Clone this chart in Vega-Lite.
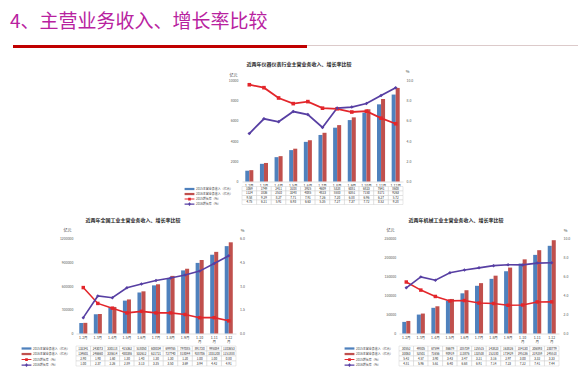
{
  "$schema": "https://vega.github.io/schema/vega-lite/v6.json",
  "padding": {"left": 10, "top": 12, "right": 0, "bottom": 4},
  "autosize": {"type": "pad"},
  "background": "#FFFFFF",
  "config": {
    "view": {"stroke": null},
    "font": "Noto Sans CJK SC",
    "axis": {"labelFont": "Noto Sans CJK SC", "titleFont": "Noto Sans CJK SC", "labelFontSize": 3.5, "labelColor": "#595959", "ticks": false, "grid": false, "domain": false, "titleFontWeight": "normal", "titleFontSize": 4, "titleColor": "#404040"},
    "legend": {"orient": "left", "title": null, "padding": 0, "symbolSize": 20, "symbolOpacity": 1, "labelFont": "Noto Sans CJK SC", "labelFontSize": 3, "labelColor": "#404040", "labelOffset": 4, "labelLimit": 300, "symbolStrokeWidth": 0},
    "title": {"font": "Noto Sans CJK SC"}
  },
  "datasets": {
    "ins": [
      {"m": "1-2月", "r15": 1069, "r16": 1124, "g15": 9.58, "g16": 4.75},
      {"m": "1-3月", "r15": 1749, "r16": 1836, "g15": 9.29, "g16": 6.21},
      {"m": "1-4月", "r15": 2411, "r16": 2510, "g15": 8.27, "g16": 5.91},
      {"m": "1-5月", "r15": 3108, "r16": 3248, "g15": 7.71, "g16": 6.93},
      {"m": "1-6月", "r15": 3925, "r16": 4085, "g15": 7.91, "g16": 6.63},
      {"m": "1-7月", "r15": 4609, "r16": 4823, "g15": 7.26, "g16": 5.35},
      {"m": "1-8月", "r15": 5328, "r16": 5583, "g15": 7.20, "g16": 7.27},
      {"m": "1-9月", "r15": 6081, "r16": 6351, "g15": 6.88, "g16": 7.37},
      {"m": "1-10月", "r15": 6823, "r16": 7150, "g15": 6.96, "g16": 7.72},
      {"m": "1-11月", "r15": 7641, "r16": 8171, "g15": 6.27, "g16": 8.52},
      {"m": "1-12月", "r15": 8608, "r16": 9263, "g15": 5.72, "g16": 9.28}
    ],
    "nat": [
      {"m": "1-2月", "r15": 132341, "r16": 134601, "g15": 2.90, "g16": 1.00},
      {"m": "1-3月", "r15": 243073, "r16": 246660, "g15": 1.90, "g16": 2.37},
      {"m": "1-4月", "r15": 330118, "r16": 335614, "g15": 1.60, "g16": 2.26},
      {"m": "1-5月", "r15": 415362, "r16": 430386, "g15": 1.30, "g16": 2.89},
      {"m": "1-6月", "r15": 518050, "r16": 532612, "g15": 1.40, "g16": 3.13},
      {"m": "1-7月", "r15": 608034, "r16": 621721, "g15": 1.30, "g16": 3.35},
      {"m": "1-8月", "r15": 699765, "r16": 727740, "g15": 1.30, "g16": 3.50},
      {"m": "1-9月", "r15": 797085, "r16": 818044, "g15": 1.20, "g16": 3.69},
      {"m": "1-10月", "r15": 891720, "r16": 928706, "g15": 1.00, "g16": 3.94},
      {"m": "1-11月", "r15": 995084, "r16": 1031208, "g15": 1.00, "g16": 4.42},
      {"m": "1-12月", "r15": 1103653, "r16": 1151888, "g15": 0.80, "g16": 4.91}
    ],
    "mach": [
      {"m": "1-2月", "r15": 30552, "r16": 33063, "g15": 5.42, "g16": 4.81},
      {"m": "1-3月", "r15": 49805, "r16": 52501, "g15": 4.57, "g16": 5.96},
      {"m": "1-4月", "r15": 67594, "r16": 71656, "g15": 3.90, "g16": 5.61},
      {"m": "1-5月", "r15": 86679, "r16": 90919, "g15": 3.43, "g16": 6.40},
      {"m": "1-6月", "r15": 105739, "r16": 113876, "g15": 3.47, "g16": 6.68},
      {"m": "1-7月", "r15": 125515, "r16": 132538, "g15": 3.21, "g16": 6.91},
      {"m": "1-8月", "r15": 143823, "r16": 152180, "g15": 3.16, "g16": 7.14},
      {"m": "1-9月", "r15": 163826, "r16": 173429, "g15": 2.97, "g16": 7.23},
      {"m": "1-10月", "r15": 184130, "r16": 195136, "g15": 3.00, "g16": 7.22},
      {"m": "1-11月", "r15": 206893, "r16": 219259, "g15": 3.32, "g16": 7.41},
      {"m": "1-12月", "r15": 230779, "r16": 245518, "g15": 3.33, "g16": 7.44}
    ]
  },
  "spacing": 13.5,
  "resolve": {"scale": {"color": "independent", "shape": "independent"}, "legend": {"color": "independent", "shape": "independent"}},
  "vconcat": [
    {
      "spacing": 0,
      "bounds": "flush",
      "hconcat": [
        {
          "width": 294, "height": 3,
          "view": {"fill": "#C00000", "stroke": null},
          "title": {"text": "4、主营业务收入、增长率比较", "anchor": "start", "frame": "group", "dx": -3, "offset": -1.5, "baseline": "alphabetic", "fontSize": 19, "fontWeight": "normal", "color": "#B8229F"},
          "data": {"values": [{}]},
          "mark": {"type": "point", "opacity": 0, "size": 0}
        },
        {
          "width": 271, "height": 1,
          "view": {"fill": "#DCCACA", "stroke": null},
          "data": {"values": [{}]},
          "mark": {"type": "point", "opacity": 0, "size": 0}
        }
      ]
    },
    {
      "spacing": -1.5,
      "resolve": {"scale": {"color": "independent", "shape": "independent"}, "legend": {"color": "independent", "shape": "independent"}},
      "vconcat": [
        {
          "spacing": 0,
          "bounds": "flush",
          "resolve": {"scale": {"color": "independent", "shape": "independent"}, "legend": {"color": "independent", "shape": "independent"}},
          "hconcat": [
            {"width": 229, "height": 1, "data": {"values": [{}]}, "mark": {"type": "point", "opacity": 0, "size": 0}},
            {
              "width": 161, "height": 101,
              "title": {"text": "近两年仪器仪表行业主营业务收入、增长率比较", "frame": "group", "anchor": "middle", "dx": -23.5, "offset": 1, "baseline": "middle", "fontSize": 5, "fontWeight": "bold", "color": "#262626"},
              "data": {"name": "ins"},
              "layer": [
                {
                  "transform": [{"fold": ["r15", "r16"], "as": ["k", "v"]}],
                  "mark": {"type": "bar"},
                  "encoding": {
                    "x": {"field": "m", "type": "nominal", "sort": null, "scale": {"paddingInner": 0.45, "paddingOuter": 0.225}, "axis": {"title": null, "labelAngle": 0, "labelFontSize": 3.5, "labelColor": "#404040", "labelPadding": 1.5, "domain": true, "domainColor": "#BFBFBF", "domainWidth": 0.5}},
                    "xOffset": {"field": "k", "type": "nominal", "sort": ["r15", "r16"]},
                    "y": {"field": "v", "type": "quantitative", "scale": {"domain": [0, 10000]}, "axis": {"title": "亿元", "titleAngle": 0, "titleX": -9, "titleY": -5.5, "titleAlign": "center", "titleBaseline": "middle", "values": [0, 2000, 4000, 6000, 8000, 10000], "format": "d", "labelPadding": 4}},
                    "color": {"field": "k", "type": "nominal", "scale": {"domain": ["r15", "r16"], "range": ["#4F81BD", "#C0504D"]}, "legend": null}
                  }
                },
                {
                  "transform": [{"fold": ["g15", "g16"], "as": ["k", "v"]}],
                  "encoding": {
                    "x": {"field": "m", "type": "nominal", "sort": null},
                    "y": {"field": "v", "type": "quantitative", "scale": {"domain": [0, 10]}, "axis": {"orient": "right", "title": "%", "titleAngle": 0, "titleX": 4, "titleY": -9, "titleAlign": "center", "titleBaseline": "middle", "values": [0, 2, 4, 6, 8, 10], "format": ".1f", "labelPadding": 3}},
                    "color": {"field": "k", "type": "nominal", "scale": {"domain": ["g15", "g16"], "range": ["#E3262B", "#573FA3"]}, "legend": null}
                  },
                  "layer": [
                    {"mark": {"type": "line", "strokeWidth": 1.8}},
                    {"mark": {"type": "point", "filled": true, "opacity": 1, "size": 13}, "encoding": {"shape": {"field": "k", "type": "nominal", "scale": {"domain": ["g15", "g16"], "range": ["square", "diamond"]}, "legend": null}}}
                  ]
                }
              ],
              "resolve": {"scale": {"y": "independent", "color": "independent"}}
            }
          ]
        },
        {
          "spacing": 11,
          "resolve": {"scale": {"color": "independent", "shape": "independent"}, "legend": {"color": "independent", "shape": "independent"}},
          "vconcat": [
            {
              "spacing": 0,
              "bounds": "flush",
              "resolve": {"scale": {"color": "independent", "shape": "independent"}, "legend": {"color": "independent", "shape": "independent"}},
              "hconcat": [
                {"width": 229, "height": 1, "data": {"values": [{}]}, "mark": {"type": "point", "opacity": 0, "size": 0}},
                {
                  "width": 161, "height": 18,
                  "data": {"name": "ins"},
                  "transform": [{"fold": ["r15", "r16", "g15", "g16"], "as": ["k", "v"]}, {"calculate": "datum.k == 'g15' || datum.k == 'g16' ? format(datum.v, '.2f') : format(datum.v, 'd')", "as": "t"}],
                  "encoding": {
                    "x": {"field": "m", "type": "nominal", "sort": null, "scale": {"paddingInner": 0, "paddingOuter": 0}, "axis": null},
                    "y": {"field": "k", "type": "nominal", "sort": ["r15", "r16", "g15", "g16"], "scale": {"paddingInner": 0, "paddingOuter": 0}, "axis": null}
                  },
                  "layer": [
                    {"mark": {"type": "rect", "fill": "#FFFFFF", "stroke": "#C8C8C8", "strokeWidth": 0.4}},
                    {"mark": {"type": "text", "fontSize": 3, "color": "#262626"}, "encoding": {"text": {"field": "t"}}},
                    {"mark": {"type": "point", "filled": true, "opacity": 0}, "encoding": {
                      "color": {"field": "k", "type": "nominal", "scale": {"domain": ["r15", "r16", "g15", "g16"], "range": ["#4F81BD", "#C0504D", "#E3262B", "#573FA3"]}, "legend": {"offset": 9, "rowPadding": 0.03, "labelExpr": "datum.value == 'r15' ? '2015主营业务收入（亿元）' : datum.value == 'r16' ? '2016主营业务收入（亿元）' : datum.value == 'g15' ? '2015增长率（%）' : '2016增长率（%）'"}},
                      "shape": {"field": "k", "type": "nominal", "scale": {"domain": ["r15", "r16", "g15", "g16"], "range": ["M-2.2,-0.5H2.2V0.5H-2.2Z", "M-2.2,-0.5H2.2V0.5H-2.2Z", "M-2.2,-0.25H2.2V0.25H-2.2Z M-0.6,-0.6H0.6V0.6H-0.6Z", "M-2.2,-0.25H2.2V0.25H-2.2Z M0,-0.8L0.8,0L0,0.8L-0.8,0Z"]}, "legend": {"offset": 9, "rowPadding": 0.03, "labelExpr": "datum.value == 'r15' ? '2015主营业务收入（亿元）' : datum.value == 'r16' ? '2016主营业务收入（亿元）' : datum.value == 'g15' ? '2015增长率（%）' : '2016增长率（%）'"}}
                    }}
                  ]
                }
              ]
            },
            {
              "spacing": 1.5,
              "resolve": {"scale": {"color": "independent", "shape": "independent"}, "legend": {"color": "independent", "shape": "independent"}},
              "vconcat": [
                {
                  "spacing": 0,
                  "bounds": "flush",
                  "resolve": {"scale": {"color": "independent", "shape": "independent"}, "legend": {"color": "independent", "shape": "independent"}},
                  "hconcat": [
                    {"width": 63, "height": 1, "data": {"values": [{}]}, "mark": {"type": "point", "opacity": 0, "size": 0}},
                    {
                      "width": 160, "height": 95,
                      "title": {"text": "近两年全国工业主营业务收入、增长率比较", "frame": "group", "anchor": "middle", "dx": -23, "offset": 3.5, "baseline": "middle", "fontSize": 5, "fontWeight": "bold", "color": "#262626"},
                      "data": {"name": "nat"},
                      "layer": [
                        {
                          "transform": [{"fold": ["r15", "r16"], "as": ["k", "v"]}],
                          "mark": {"type": "bar"},
                          "encoding": {
                            "x": {"field": "m", "type": "nominal", "sort": null, "scale": {"paddingInner": 0.45, "paddingOuter": 0.225}, "axis": {"title": null, "labelAngle": 0, "labelFontSize": 3.5, "labelColor": "#404040", "labelPadding": 2, "labelLineHeight": 4.2, "labelExpr": "length(datum.label) > 4 ? [slice(datum.label, 0, 4), '月'] : datum.label", "domain": true, "domainColor": "#BFBFBF", "domainWidth": 0.5}},
                            "xOffset": {"field": "k", "type": "nominal", "sort": ["r15", "r16"]},
                            "y": {"field": "v", "type": "quantitative", "scale": {"domain": [0, 1200000]}, "axis": {"title": "亿元", "titleAngle": 0, "titleX": -9, "titleY": -8, "titleAlign": "center", "titleBaseline": "middle", "values": [0, 300000, 600000, 900000, 1200000], "format": "d", "labelPadding": 3}},
                            "color": {"field": "k", "type": "nominal", "scale": {"domain": ["r15", "r16"], "range": ["#4F81BD", "#C0504D"]}, "legend": null}
                          }
                        },
                        {
                          "transform": [{"fold": ["g15", "g16"], "as": ["k", "v"]}],
                          "encoding": {
                            "x": {"field": "m", "type": "nominal", "sort": null},
                            "y": {"field": "v", "type": "quantitative", "scale": {"domain": [0, 6]}, "axis": {"orient": "right", "title": "%", "titleAngle": 0, "titleX": 6, "titleY": -8, "titleAlign": "center", "titleBaseline": "middle", "values": [0, 1.5, 3, 4.5, 6], "format": ".1f", "labelPadding": 3.5}},
                            "color": {"field": "k", "type": "nominal", "scale": {"domain": ["g15", "g16"], "range": ["#E3262B", "#573FA3"]}, "legend": null}
                          },
                          "layer": [
                            {"mark": {"type": "line", "strokeWidth": 1.6}},
                            {"mark": {"type": "point", "filled": true, "opacity": 1, "size": 12}, "encoding": {"shape": {"field": "k", "type": "nominal", "scale": {"domain": ["g15", "g16"], "range": ["square", "diamond"]}, "legend": null}}}
                          ]
                        }
                      ],
                      "resolve": {"scale": {"y": "independent", "color": "independent"}}
                    },
                    {"width": 163, "height": 1, "data": {"values": [{}]}, "mark": {"type": "point", "opacity": 0, "size": 0}},
                    {
                      "width": 160, "height": 95,
                      "title": {"text": "近两年机械工业主营业务收入、增长率比较", "frame": "group", "anchor": "middle", "dx": -23, "offset": 3.5, "baseline": "middle", "fontSize": 5, "fontWeight": "bold", "color": "#262626"},
                      "data": {"name": "mach"},
                      "layer": [
                        {
                          "transform": [{"fold": ["r15", "r16"], "as": ["k", "v"]}],
                          "mark": {"type": "bar"},
                          "encoding": {
                            "x": {"field": "m", "type": "nominal", "sort": null, "scale": {"paddingInner": 0.45, "paddingOuter": 0.225}, "axis": {"title": null, "labelAngle": 0, "labelFontSize": 3.5, "labelColor": "#404040", "labelPadding": 2, "labelLineHeight": 4.2, "labelExpr": "length(datum.label) > 4 ? [slice(datum.label, 0, 4), '月'] : datum.label", "domain": true, "domainColor": "#BFBFBF", "domainWidth": 0.5}},
                            "xOffset": {"field": "k", "type": "nominal", "sort": ["r15", "r16"]},
                            "y": {"field": "v", "type": "quantitative", "scale": {"domain": [0, 250000]}, "axis": {"title": "亿元", "titleAngle": 0, "titleX": -9, "titleY": -8, "titleAlign": "center", "titleBaseline": "middle", "values": [0, 50000, 100000, 150000, 200000, 250000], "format": "d", "labelPadding": 3.3}},
                            "color": {"field": "k", "type": "nominal", "scale": {"domain": ["r15", "r16"], "range": ["#4F81BD", "#C0504D"]}, "legend": null}
                          }
                        },
                        {
                          "transform": [{"fold": ["g15", "g16"], "as": ["k", "v"]}],
                          "encoding": {
                            "x": {"field": "m", "type": "nominal", "sort": null},
                            "y": {"field": "v", "type": "quantitative", "scale": {"domain": [0, 10]}, "axis": {"orient": "right", "title": "%", "titleAngle": 0, "titleX": 6, "titleY": -8, "titleAlign": "center", "titleBaseline": "middle", "values": [0, 2, 4, 6, 8, 10], "format": ".1f", "labelPadding": 4}},
                            "color": {"field": "k", "type": "nominal", "scale": {"domain": ["g15", "g16"], "range": ["#E3262B", "#573FA3"]}, "legend": null}
                          },
                          "layer": [
                            {"mark": {"type": "line", "strokeWidth": 1.6}},
                            {"mark": {"type": "point", "filled": true, "opacity": 1, "size": 12}, "encoding": {"shape": {"field": "k", "type": "nominal", "scale": {"domain": ["g15", "g16"], "range": ["square", "diamond"]}, "legend": null}}}
                          ]
                        }
                      ],
                      "resolve": {"scale": {"y": "independent", "color": "independent"}}
                    }
                  ]
                },
                {
                  "spacing": 0,
                  "bounds": "flush",
                  "resolve": {"scale": {"color": "independent", "shape": "independent"}, "legend": {"color": "independent", "shape": "independent"}},
                  "hconcat": [
                    {"width": 63, "height": 1, "data": {"values": [{}]}, "mark": {"type": "point", "opacity": 0, "size": 0}},
                    {
                      "width": 160, "height": 20,
                      "data": {"name": "nat"},
                      "transform": [{"fold": ["r15", "r16", "g15", "g16"], "as": ["k", "v"]}, {"calculate": "datum.k == 'g15' || datum.k == 'g16' ? format(datum.v, '.2f') : format(datum.v, 'd')", "as": "t"}],
                      "encoding": {
                        "x": {"field": "m", "type": "nominal", "sort": null, "scale": {"paddingInner": 0, "paddingOuter": 0}, "axis": null},
                        "y": {"field": "k", "type": "nominal", "sort": ["r15", "r16", "g15", "g16"], "scale": {"paddingInner": 0, "paddingOuter": 0}, "axis": null}
                      },
                      "layer": [
                        {"mark": {"type": "rect", "fill": "#FFFFFF", "stroke": "#C8C8C8", "strokeWidth": 0.4}},
                        {"mark": {"type": "text", "fontSize": 3, "color": "#262626"}, "encoding": {"text": {"field": "t"}}},
                        {"mark": {"type": "point", "filled": true, "opacity": 0}, "encoding": {
                          "color": {"field": "k", "type": "nominal", "scale": {"domain": ["r15", "r16", "g15", "g16"], "range": ["#4F81BD", "#C0504D", "#E3262B", "#573FA3"]}, "legend": {"offset": 6, "rowPadding": 0.53, "labelExpr": "datum.value == 'r15' ? '2015主营业务收入（亿元）' : datum.value == 'r16' ? '2016主营业务收入（亿元）' : datum.value == 'g15' ? '2015增长率（%）' : '2016增长率（%）'"}},
                          "shape": {"field": "k", "type": "nominal", "scale": {"domain": ["r15", "r16", "g15", "g16"], "range": ["M-2.2,-0.5H2.2V0.5H-2.2Z", "M-2.2,-0.5H2.2V0.5H-2.2Z", "M-2.2,-0.25H2.2V0.25H-2.2Z M-0.6,-0.6H0.6V0.6H-0.6Z", "M-2.2,-0.25H2.2V0.25H-2.2Z M0,-0.8L0.8,0L0,0.8L-0.8,0Z"]}, "legend": {"offset": 6, "rowPadding": 0.53, "labelExpr": "datum.value == 'r15' ? '2015主营业务收入（亿元）' : datum.value == 'r16' ? '2016主营业务收入（亿元）' : datum.value == 'g15' ? '2015增长率（%）' : '2016增长率（%）'"}}
                        }}
                      ]
                    },
                    {"width": 163, "height": 1, "data": {"values": [{}]}, "mark": {"type": "point", "opacity": 0, "size": 0}},
                    {
                      "width": 160, "height": 20,
                      "data": {"name": "mach"},
                      "transform": [{"fold": ["r15", "r16", "g15", "g16"], "as": ["k", "v"]}, {"calculate": "datum.k == 'g15' || datum.k == 'g16' ? format(datum.v, '.2f') : format(datum.v, 'd')", "as": "t"}],
                      "encoding": {
                        "x": {"field": "m", "type": "nominal", "sort": null, "scale": {"paddingInner": 0, "paddingOuter": 0}, "axis": null},
                        "y": {"field": "k", "type": "nominal", "sort": ["r15", "r16", "g15", "g16"], "scale": {"paddingInner": 0, "paddingOuter": 0}, "axis": null}
                      },
                      "layer": [
                        {"mark": {"type": "rect", "fill": "#FFFFFF", "stroke": "#C8C8C8", "strokeWidth": 0.4}},
                        {"mark": {"type": "text", "fontSize": 3, "color": "#262626"}, "encoding": {"text": {"field": "t"}}},
                        {"mark": {"type": "point", "filled": true, "opacity": 0}, "encoding": {
                          "color": {"field": "k", "type": "nominal", "scale": {"domain": ["r15", "r16", "g15", "g16"], "range": ["#4F81BD", "#C0504D", "#E3262B", "#573FA3"]}, "legend": {"offset": 6, "rowPadding": 0.53, "labelExpr": "datum.value == 'r15' ? '2015主营业务收入（亿元）' : datum.value == 'r16' ? '2016主营业务收入（亿元）' : datum.value == 'g15' ? '2015增长率（%）' : '2016增长率（%）'"}},
                          "shape": {"field": "k", "type": "nominal", "scale": {"domain": ["r15", "r16", "g15", "g16"], "range": ["M-2.2,-0.5H2.2V0.5H-2.2Z", "M-2.2,-0.5H2.2V0.5H-2.2Z", "M-2.2,-0.25H2.2V0.25H-2.2Z M-0.6,-0.6H0.6V0.6H-0.6Z", "M-2.2,-0.25H2.2V0.25H-2.2Z M0,-0.8L0.8,0L0,0.8L-0.8,0Z"]}, "legend": {"offset": 6, "rowPadding": 0.53, "labelExpr": "datum.value == 'r15' ? '2015主营业务收入（亿元）' : datum.value == 'r16' ? '2016主营业务收入（亿元）' : datum.value == 'g15' ? '2015增长率（%）' : '2016增长率（%）'"}}
                        }}
                      ]
                    }
                  ]
                }
              ]
            }
          ]
        }
      ]
    }
  ]
}
